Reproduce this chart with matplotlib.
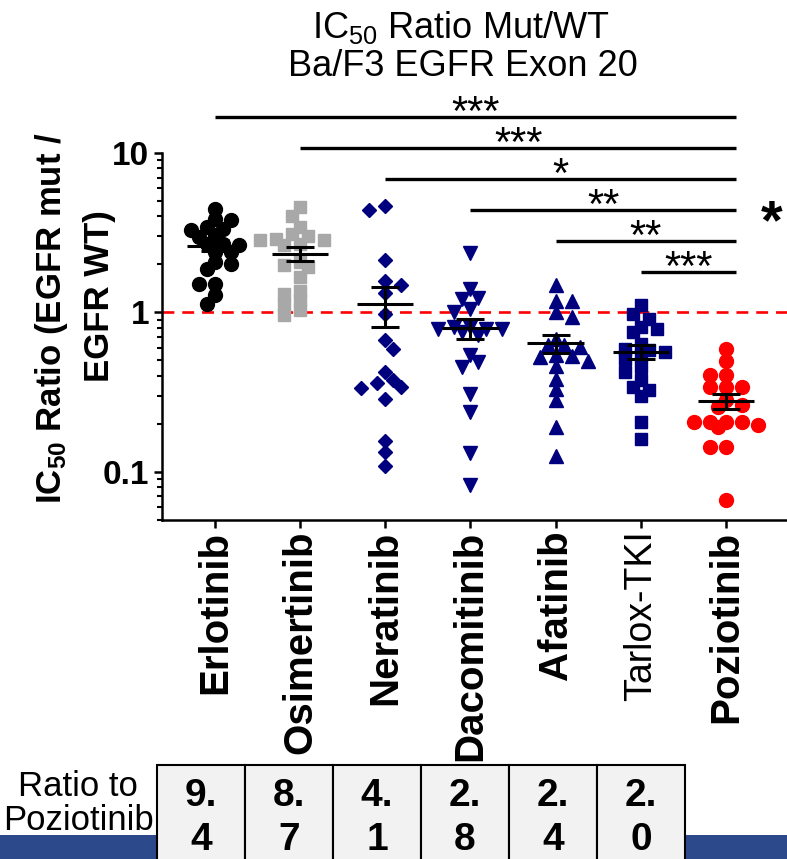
import matplotlib
matplotlib.use("Agg")
import matplotlib.pyplot as plt
from matplotlib import font_manager
from matplotlib.patches import Rectangle
from matplotlib.ticker import LogLocator, NullFormatter
import numpy as np

drugs = ["Erlotinib", "Osimertinib", "Neratinib", "Dacomitinib",
         "Afatinib", "Tarlox-TKI", "Poziotinib"]

# IC50 ratio mut / WT, one value per cell line
erlotinib = [4.48, 3.87, 3.78, 3.35, 3.43, 3.27, 3.04, 2.97, 2.70, 2.70,
             2.63, 2.39, 2.39, 2.02, 1.88, 2.07, 1.51, 1.51, 1.28, 1.13]
osimertinib = [4.58, 4.00, 3.43, 3.12, 2.90, 2.86, 2.83, 2.70, 2.64, 3.00,
               2.07, 1.97, 1.92, 1.67, 1.37, 1.31, 1.19, 1.11, 1.03, 0.96]
neratinib = [4.63, 4.41, 2.14, 1.49, 1.57, 1.32, 0.97, 0.667, 0.59, 0.42,
             0.337, 0.374, 0.34, 0.36, 0.287, 0.156, 0.133, 0.109]
dacomitinib = [2.36, 1.41, 1.23, 1.22, 1.05, 1.00, 0.81, 0.79, 0.79, 0.81,
               0.78, 0.72, 0.75, 0.537, 0.488, 0.454, 0.309, 0.237, 0.13, 0.082]
afatinib = [1.48, 1.18, 1.18, 1.00, 0.935, 0.684, 0.621, 0.605, 0.621, 0.537,
            0.53, 0.525, 0.495, 0.458, 0.383, 0.332, 0.28, 0.19, 0.126]
tarlox = [1.11, 0.97, 0.91, 0.81, 0.79, 0.75, 0.635, 0.59, 0.583, 0.563,
          0.537, 0.512, 0.454, 0.422, 0.378, 0.34, 0.324, 0.297, 0.205, 0.161]
poziotinib = [0.592, 0.492, 0.402, 0.402, 0.34, 0.34, 0.34, 0.28, 0.261, 0.254,
              0.205, 0.205, 0.205, 0.205, 0.195, 0.19, 0.143, 0.143, 0.0667]

groups = [erlotinib, osimertinib, neratinib, dacomitinib, afatinib, tarlox, poziotinib]

# (group a, group b, label) -- all vs Poziotinib
comparisons = [(0, 6, "***"), (1, 6, "***"), (2, 6, "*"),
               (3, 6, "**"), (4, 6, "**"), (5, 6, "***")]

ratio_to_pozi = [9.4, 8.7, 4.1, 2.8, 2.4, 2.0]

names = {f.name for f in font_manager.fontManager.ttflist}
SANS = "Liberation Sans" if "Liberation Sans" in names else "DejaVu Sans"
NARROW = "Liberation Sans Narrow" if "Liberation Sans Narrow" in names else SANS
title_size = 30 if NARROW != SANS else 26

plt.rcParams["font.family"] = [SANS, "DejaVu Sans"]
plt.rcParams["mathtext.default"] = "regular"

W, H = 787, 859
fig = plt.figure(figsize=(W / 100, H / 100), dpi=100)


def fx(px):
    return px / W


def fy(py):
    return 1 - py / H


# blue slide band along the bottom edge (left of and right of the table)
BAND = "#2c4a8b"
fig.patches.append(Rectangle((0, 0), fx(160), (H - 835) / H, transform=fig.transFigure,
                             fc=BAND, ec="none", zorder=0.5, figure=fig))
fig.patches.append(Rectangle((fx(680), 0), 1 - fx(680), (H - 835) / H,
                             transform=fig.transFigure, fc=BAND, ec="none",
                             zorder=0.5, figure=fig))

ax = fig.add_axes([fx(162), fy(519.5), fx(787) - fx(162), fy(153) - fy(519.5)])

PX_CAT = 85.17   # pixels per category on x
PX_DEC = 159.3   # pixels per decade on y


def swarm(vals, step, mind):
    # simple beeswarm in pixel space, returns x offsets in category units
    order = np.argsort(vals)[::-1]
    placed = []
    offs = np.zeros(len(vals))
    for j, idx in enumerate(order):
        y = np.log10(vals[idx]) * PX_DEC
        k = 0
        found = None
        while found is None:
            if k == 0:
                cands = [0.0]
            elif j % 2:
                cands = [-k * step, k * step]
            else:
                cands = [k * step, -k * step]
            for c in cands:
                if all((c - px) ** 2 + (y - py) ** 2 >= mind ** 2
                       for px, py in placed):
                    found = c
                    break
            k += 1
        placed.append((found, y))
        offs[idx] = found / PX_CAT
    return offs


styles = [("o", "black", 10), ("s", "#a8a8a8", 9), ("D", "#00007f", 7.5),
          ("v", "#00007f", 10), ("^", "#00007f", 10), ("s", "#00007f", 9),
          ("o", "#ff0000", 10)]

ax.axhline(1, color="#ff0000", lw=1.9, dashes=(4.5, 3), zorder=1)

for i, (vals, (mk, col, ms)) in enumerate(zip(groups, styles)):
    vals = np.array(vals)
    xs = i + swarm(vals, 8.0, 9.5)
    ax.plot(xs, vals, ls="none", marker=mk, color=col, ms=ms, mec=col, zorder=2)
    m = vals.mean()
    sem = vals.std(ddof=1) / np.sqrt(len(vals))
    ax.hlines(m, i - 0.33, i + 0.33, color="black", lw=2.2, zorder=4)
    ax.hlines([m - sem, m + sem], i - 0.165, i + 0.165, color="black", lw=2.2, zorder=4)
    ax.vlines(i, m - sem, m + sem, color="black", lw=2.2, zorder=4)

ax.set_yscale("log")
ax.set_ylim(0.05, 10)
ax.set_xlim(-0.62, 6.716)
ax.set_yticks([0.1, 1, 10])
ax.set_yticklabels(["0.1", "1", "10"], fontsize=24, fontweight="bold")
ax.yaxis.set_minor_locator(LogLocator(base=10, subs=np.arange(2, 10)))
ax.yaxis.set_minor_formatter(NullFormatter())
ax.tick_params(axis="y", which="major", length=6, width=1.8, pad=3)
ax.tick_params(axis="y", which="minor", length=3.5, width=1.5)

ax.set_xticks(range(len(drugs)))
ax.set_xticklabels(drugs, rotation=90, fontsize=29, fontweight="bold")
ax.tick_params(axis="x", length=6, width=1.8, pad=2)
for lbl in ax.get_xticklabels():
    if lbl.get_text() == "Tarlox-TKI":
        lbl.set_fontweight("normal")
        lbl.set_fontsize(27)

for s in ["top", "right"]:
    ax.spines[s].set_visible(False)
for s in ["left", "bottom"]:
    ax.spines[s].set_linewidth(1.8)

# significance bars
bracket_base = 1.79
bracket_step = 1.565
n = len(comparisons)
for k, (a, b, stars) in enumerate(comparisons):
    level = bracket_base * bracket_step ** (n - 1 - k)
    x1 = b + 0.12
    ax.plot([a, x1], [level, level], color="black", lw=2.4,
            clip_on=False, solid_capstyle="butt", zorder=5)
    ax.annotate(stars, xy=((a + x1) / 2, level), xytext=(0, -6),
                textcoords="offset points", ha="center", va="baseline",
                fontsize=30, annotation_clip=False)

fig.text(fx(772), fy(238), "*", fontsize=40, fontweight="bold",
         ha="center", va="baseline")

# titles and y label
fig.text(fx(461), fy(27), "IC$_{50}$ Ratio Mut/WT", family=NARROW,
         fontsize=title_size, ha="center", va="center")
fig.text(fx(463), fy(67), "Ba/F3 EGFR Exon 20", family=NARROW,
         fontsize=title_size, ha="center", va="center")
fig.text(fx(52), fy(318), "IC$_{50}$ Ratio (EGFR mut /", fontsize=25,
         fontweight="bold", rotation=90, ha="center", va="center")
fig.text(fx(100), fy(296), "EGFR WT)", fontsize=25,
         fontweight="bold", rotation=90, ha="center", va="center")

# ratio table
fig.text(fx(78), fy(786), "Ratio to", fontsize=25, ha="center", va="center", zorder=3)
fig.text(fx(78), fy(820), "Poziotinib", fontsize=25, ha="center", va="center", zorder=3)

cell_left, cell_w, cell_top = 157, 88, 765
for i, r in enumerate(ratio_to_pozi):
    x0 = cell_left + i * cell_w
    fig.patches.append(Rectangle((fx(x0), fy(H + 10)), cell_w / W, (H + 10 - cell_top) / H,
                                 transform=fig.transFigure, fc="#f2f2f2",
                                 ec="black", lw=1.5, zorder=1, figure=fig))
    whole, frac = f"{r:.1f}".split(".")
    fig.text(fx(x0 + cell_w / 2), fy(796), whole + ".", family=NARROW,
             fontsize=28, fontweight="bold", ha="center", va="center", zorder=2)
    fig.text(fx(x0 + cell_w / 2), fy(840), frac, family=NARROW,
             fontsize=28, fontweight="bold", ha="center", va="center", zorder=2)

fig.savefig("out.png", dpi=100)
